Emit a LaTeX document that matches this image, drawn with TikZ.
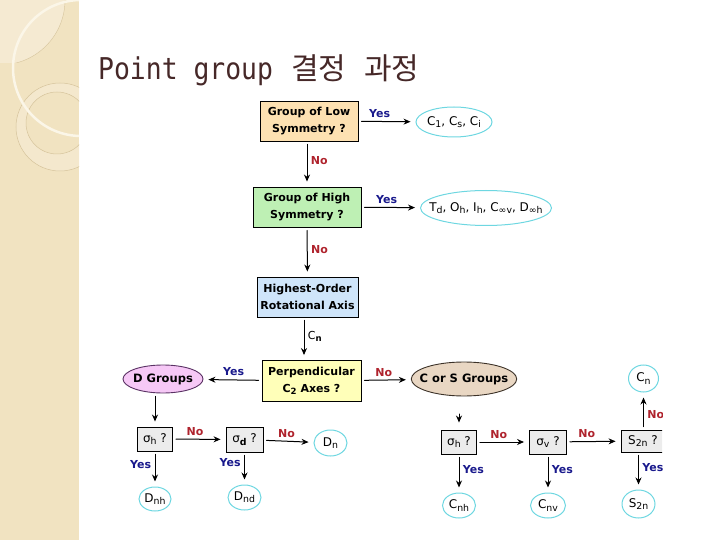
\documentclass[tikz,border=0pt]{standalone}
\usepackage{graphicx}
\usepackage{fontspec}
\setmainfont{DejaVu Sans}
\setsansfont{DejaVu Sans}
\newfontfamily\titlemono{DejaVu Sans Mono}
\newfontfamily\titlekr{Noto Sans CJK KR}
\usetikzlibrary{arrows.meta,shapes.geometric}
\definecolor{panel}{RGB}{241,227,193}
\definecolor{panellight}{RGB}{245,234,210}
\definecolor{panelring}{RGB}{244,232,205}
\definecolor{panelline}{RGB}{214,196,156}
\definecolor{panelarc}{RGB}{251,246,232}
\definecolor{titlebrown}{RGB}{70,40,40}
\definecolor{lowfill}{RGB}{253,225,178}
\definecolor{highfill}{RGB}{190,240,180}
\definecolor{axisfill}{RGB}{207,229,250}
\definecolor{perpfill}{RGB}{255,255,185}
\definecolor{dfill}{RGB}{246,200,246}
\definecolor{dline}{RGB}{90,50,100}
\definecolor{csfill}{RGB}{233,215,195}
\definecolor{csline}{RGB}{60,50,40}
\definecolor{qfill}{RGB}{236,236,236}
\definecolor{anscyan}{RGB}{110,215,225}
\definecolor{yesblue}{RGB}{25,25,140}
\definecolor{nored}{RGB}{175,35,45}
\newcommand\sbs[1]{\raisebox{-.35ex}{\scalebox{.78}{#1}}}
\tikzset{
 qbox/.style={draw=black,line width=.9pt,align=center,inner sep=0pt,
  font=\fontsize{11}{17}\selectfont\bfseries},
 qsmall/.style={draw=black,line width=.9pt,fill=qfill,inner sep=0pt,
  font=\fontsize{12}{14}\selectfont},
 ansell/.style={ellipse,draw=anscyan,line width=1pt,fill=white,inner sep=0pt,
  font=\fontsize{12}{14}\selectfont},
 grpell/.style={ellipse,line width=.9pt,inner sep=0pt,
  font=\fontsize{11.5}{14}\selectfont\bfseries},
 flow/.style={-{Stealth[length=7pt,width=6pt]},line width=1pt,
  shorten <=3pt,shorten >=5pt},
 yeslbl/.style={text=yesblue,font=\fontsize{11}{13}\selectfont\bfseries},
 nolbl/.style={text=nored,font=\fontsize{11}{13}\selectfont\bfseries}
}
\begin{document}
\begin{tikzpicture}[x=1pt,y=-1pt,line cap=round]
 \useasboundingbox (0,0) rectangle (720,540);
 % side panel
 \begin{scope}
  \clip (0,0) rectangle (79,540);
  \fill[panel] (0,0) rectangle (79,540);
  \begin{scope}
   \clip (0,0) rectangle (79,63);
   \fill[panellight] (0,0) circle[radius=65];
   \draw[panelline,line width=.4pt] (0,0) circle[radius=65];
  \end{scope}
  \fill[panelring,even odd rule] (60,127) circle[radius=44] (57,123) circle[radius=31];
  \draw[panelline,line width=.5pt] (60,127) circle[radius=44] (57,123) circle[radius=31];
  \draw[panelarc,line width=2.5pt] (81,68) circle[radius=68];
 \end{scope}
 % title
 \node[anchor=base west,inner sep=0pt,text=titlebrown,font=\fontsize{30}{30}\selectfont]
  (title) at (98,80)
  {\scalebox{.88}[1]{\titlemono Point group}\titlemono\ \titlekr 결정\titlemono\ \titlekr 과정};
 % flow chart
 \begin{scope}
  \clip (85,90) rectangle (662,540);
  \node[qbox,fill=lowfill,minimum width=98pt,minimum height=40pt] (low) at (309,121)
   {Group of Low\\Symmetry ?};
  \node[ansell,inner xsep=-3pt,minimum width=76pt,minimum height=30pt] (lowans) at (454,122)
   {C\sbs{1}, C\sbs{s}, C\sbs{i}};
  \node[qbox,fill=highfill,minimum width=108pt,minimum height=40pt] (high) at (307,207)
   {Group of High\\Symmetry ?};
  \node[ansell,inner xsep=-12pt,inner ysep=-1pt,minimum width=131pt,minimum height=35pt] (highans) at (486,208)
   {T\sbs{d}, O\sbs{h}, I\sbs{h}, C\sbs{∞v}, D\sbs{∞h}};
  \node[qbox,fill=axisfill,minimum width=101pt,minimum height=40pt] (axis) at (307.5,297)
   {Highest-Order\\Rotational Axis};
  \node[qbox,fill=perpfill,minimum width=99pt,minimum height=41pt] (perp) at (311.5,381)
   {Perpendicular\\C\sbs{2} Axes ?};
  \node[grpell,inner xsep=-2pt,fill=dfill,draw=dline,minimum width=80pt,minimum height=28pt] (dgrp) at (163,379)
   {D Groups};
  \node[grpell,inner xsep=-7pt,fill=csfill,draw=csline,minimum width=104pt,minimum height=34pt] (csgrp) at (464,379)
   {C or S Groups};
  % D branch
  \node[qsmall,minimum width=35pt,minimum height=24pt] (sh1) at (155,439) {σ\sbs{h} ?};
  \node[qsmall,minimum width=37pt,minimum height=25pt] (sd) at (244.5,439.5) {σ\sbs{\textbf{d}} ?};
  \node[ansell,minimum width=33pt,minimum height=26pt] (dn) at (330.5,443) {D\sbs{n}};
  \node[ansell,minimum width=32pt,minimum height=24pt] (dnh) at (155,499) {D\sbs{nh}};
  \node[ansell,minimum width=33pt,minimum height=25pt] (dnd) at (244.5,497.5) {D\sbs{nd}};
  % C or S branch
  \node[qsmall,minimum width=35pt,minimum height=24pt] (sh2) at (459,442) {σ\sbs{h} ?};
  \node[qsmall,minimum width=37pt,minimum height=24pt] (sv) at (548,442) {σ\sbs{v} ?};
  \node[qsmall,minimum width=44pt,minimum height=22pt] (s2n) at (643,441) {S\sbs{2n} ?};
  \node[ansell,minimum width=30pt,minimum height=27pt] (cn) at (643.5,378.5) {C\sbs{n}};
  \node[ansell,minimum width=33pt,minimum height=25pt] (cnh) at (459,505.5) {C\sbs{nh}};
  \node[ansell,minimum width=35pt,minimum height=25pt] (cnv) at (548,505.5) {C\sbs{nv}};
  \node[ansell,minimum width=33pt,minimum height=28pt] (s2nans) at (638.5,504) {S\sbs{2n}};
  \coordinate (stub) at (459,414);
  % connectors
  \draw[flow] (low) -- (lowans) node[yeslbl,pos=.37,above] {Yes};
  \draw[flow] (low.south -| high.north) -- (high.north) node[nolbl,pos=.42,right] {No};
  \draw[flow] (high) -- (highans) node[yeslbl,pos=.43,above] {Yes};
  \draw[flow] (high) -- (axis) node[nolbl,pos=.45,right] {No};
  \draw[flow] ([xshift=-3.5pt]axis.south) -- ([xshift=-3.5pt]axis.south |- perp.north)
   node[pos=.45,right,font=\fontsize{11}{13}\selectfont] {C\sbs{\textbf{n}}};
  \draw[flow] (perp) -- (csgrp) node[nolbl,pos=.45,above] {No};
  \draw[flow] (perp) -- (dgrp) node[yeslbl,pos=.48,above] {Yes};
  \draw[flow] (sh1.north |- dgrp.south) -- (sh1.north);
  \draw[flow] (sh1) -- (sd) node[nolbl,pos=.42,above] {No};
  \draw[flow] (sd) -- (dn) node[nolbl,pos=.46,above] {No};
  \draw[flow] (sh1) -- (dnh) node[yeslbl,pos=.38,left] {Yes};
  \draw[flow] (sd) -- (dnd) node[yeslbl,pos=.3,left] {Yes};
  \draw[flow,shorten <=0pt,shorten >=7pt] (stub) -- (sh2.north);
  \draw[flow] (sh2) -- (sv) node[nolbl,pos=.42,above] {No};
  \draw[flow] (sv) -- (s2n) node[nolbl,pos=.37,above] {No};
  \draw[flow] (s2n.north -| cn.south) -- (cn.south) node[nolbl,pos=.4,right] {No};
  \draw[flow] (sh2) -- (cnh) node[yeslbl,pos=.4,right] {Yes};
  \draw[flow] (sv) -- (cnv) node[yeslbl,pos=.4,right] {Yes};
  \draw[flow] (s2n.south -| s2nans.north) -- (s2nans.north) node[yeslbl,pos=.4,right] {Yes};
 \end{scope}
\end{tikzpicture}
\end{document}
